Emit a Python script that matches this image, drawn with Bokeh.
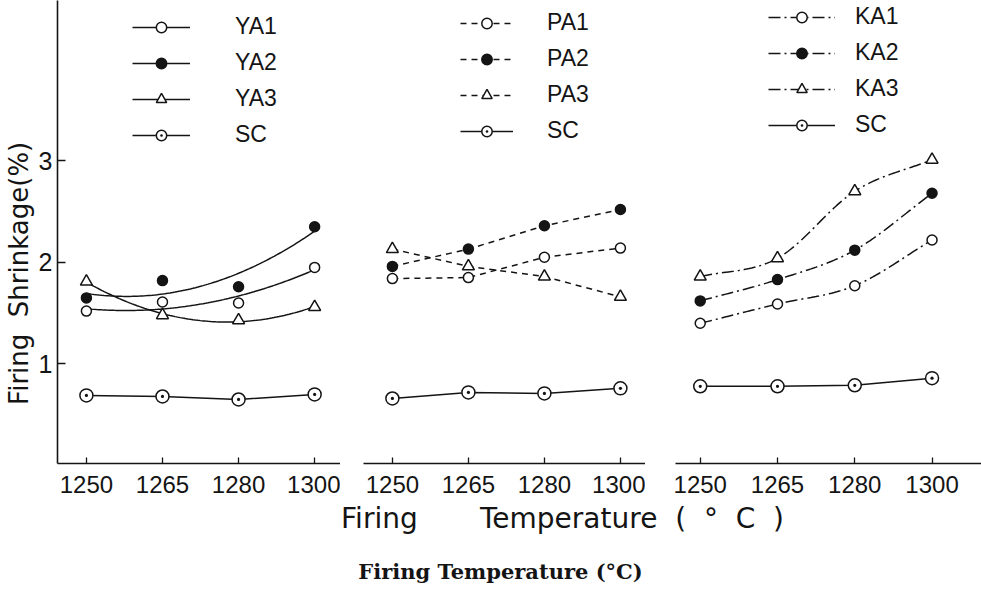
import numpy as np
from bokeh.plotting import figure
from bokeh.models import Range1d, FixedTicker, Legend, LegendItem, Label
from bokeh.layouts import row, column
from bokeh.embed import file_html
from bokeh.resources import INLINE

# ---- data: firing shrinkage (%) vs firing temperature (°C) ----
temps = ["1250", "1265", "1280", "1300"]

ya_labels = ["YA1", "YA2", "YA3", "SC"]
ya1 = [1.52, 1.61, 1.60, 1.95]
ya2 = [1.65, 1.82, 1.76, 2.35]
ya3 = [1.81, 1.48, 1.43, 1.56]
sc_ya = [0.69, 0.68, 0.65, 0.70]

pa_labels = ["PA1", "PA2", "PA3", "SC"]
pa1 = [1.84, 1.85, 2.05, 2.14]
pa2 = [1.96, 2.13, 2.36, 2.52]
pa3 = [2.13, 1.96, 1.86, 1.66]
sc_pa = [0.66, 0.72, 0.71, 0.76]

ka_labels = ["KA1", "KA2", "KA3", "SC"]
ka1 = [1.40, 1.59, 1.77, 2.22]
ka2 = [1.62, 1.83, 2.12, 2.68]
ka3 = [1.86, 2.04, 2.70, 3.01]
sc_ka = [0.78, 0.78, 0.79, 0.86]

y_ticks = [1, 2, 3]
NB = "\u00a0"
# trailing no-break spaces push the rotated title below the frame centre
y_title = "Firing" + NB * 2 + "Shrinkage(%)" + NB * 10
x_title = ("Firing" + NB * 7 + "Temperature" + NB * 2 + "(" + NB * 2 + "°" + NB * 2
           + "C" + NB * 2 + ")")
caption = "Firing Temperature (°C)"

INK = "#141414"
TICK_FONT = "Liberation Sans"
LABEL_FONT = "DejaVu Sans"
ROW_H = 503        # total height of each panel figure
BOTTOM = 40        # room for the tick labels -> frame from y=0 to y=463
FRAME_H = ROW_H - BOTTOM
Y_END = 4.577
ROW_PITCH_H = 27.5  # legend row height
LEG_SPACING = 9


def trace(ys, mode, n=30):
    """Return x/y arrays for the line through a series (straight, quadratic trend, or spline)."""
    ys = np.asarray(ys, dtype=float)
    idx = np.arange(len(ys), dtype=float)
    if mode == "straight":
        return idx, ys
    xs = np.linspace(0, len(ys) - 1, n * (len(ys) - 1) + 1)
    if mode == "fit":
        return xs, np.polyval(np.polyfit(idx, ys, 2), xs)
    pad = np.concatenate([[2 * ys[0] - ys[1]], ys, [2 * ys[-1] - ys[-2]]])
    out = []
    for x in xs:
        i = min(int(x), len(ys) - 2)
        t = x - i
        p0, p1, p2, p3 = pad[i:i + 4]
        out.append(0.5 * (2 * p1 + (-p0 + p2) * t + (2 * p0 - 5 * p1 + 4 * p2 - p3) * t ** 2
                          + (-p0 + 3 * p1 - 3 * p2 + p3) * t ** 3))
    return xs, np.array(out)


MARKERS = [
    dict(marker="circle", size=10, fill_color="white"),
    dict(marker="circle", size=10, fill_color=INK),
    dict(marker="triangle", size=12, fill_color="white"),
    dict(marker="circle_dot", size=13, fill_color="white"),
]


def panel(series, labels, dash, mode, frame_w, left, x_start, x_end, show_y,
          leg_x, first_row, glyph_w, standoff):
    p = figure(frame_width=frame_w, height=ROW_H,
               x_range=Range1d(x_start, x_end), y_range=Range1d(0.02, Y_END),
               output_backend="svg", toolbar_location=None,
               y_axis_location="left" if show_y else None,
               min_border_left=left, min_border_right=0,
               min_border_top=0, min_border_bottom=BOTTOM)
    p.outline_line_color = None
    p.grid.visible = False
    p.background_fill_color = "white"
    p.border_fill_color = "white"

    xa = p.xaxis[0]
    xa.ticker = FixedTicker(ticks=list(range(len(temps))))
    xa.major_label_overrides = {i: t for i, t in enumerate(temps)}
    xa.axis_label = None
    xa.axis_line_color = INK
    xa.axis_line_width = 1.6
    xa.major_tick_in = 6
    xa.major_tick_out = 0
    xa.major_tick_line_color = INK
    xa.major_tick_line_width = 1.3
    xa.minor_tick_line_color = None
    xa.major_label_text_font = TICK_FONT
    xa.major_label_text_font_size = "24px"
    xa.major_label_text_color = INK
    xa.major_label_standoff = 12

    if show_y:
        ya = p.yaxis[0]
        ya.ticker = FixedTicker(ticks=y_ticks)
        ya.axis_line_color = INK
        ya.axis_line_width = 1.6
        ya.major_tick_in = 8
        ya.major_tick_out = 0
        ya.major_tick_line_color = INK
        ya.major_tick_line_width = 1.3
        ya.minor_tick_line_color = None
        ya.major_label_text_font = TICK_FONT
        ya.major_label_text_font_size = "25px"
        ya.major_label_text_color = INK
        ya.major_label_standoff = 5
        ya.axis_label = y_title
        ya.axis_label_text_font = LABEL_FONT
        ya.axis_label_text_font_size = "26px"
        ya.axis_label_text_font_style = "normal"
        ya.axis_label_text_color = INK
        ya.axis_label_standoff = 2

    items = []
    for k, (ys, lab) in enumerate(zip(series, labels)):
        is_sc = lab == "SC"
        lx, ly = trace(ys, "straight" if is_sc else mode)
        ln = p.line(lx, ly, line_color=INK, line_width=1.5,
                    line_dash="solid" if is_sc else dash)
        mk = p.scatter(list(range(len(ys))), ys, line_color=INK, line_width=1.5,
                       **MARKERS[k])
        items.append(LegendItem(label=lab, renderers=[ln, mk]))

    leg = Legend(items=items, glyph_width=glyph_w, glyph_height=26,
                 label_standoff=standoff, spacing=LEG_SPACING, padding=0, margin=0,
                 border_line_color=None, background_fill_alpha=0,
                 label_text_font=TICK_FONT, label_text_font_size="23px",
                 label_text_color=INK)
    leg_h = 4 * ROW_PITCH_H + 3 * LEG_SPACING
    leg.location = (leg_x, FRAME_H - (first_row - ROW_PITCH_H / 2) - leg_h)
    p.add_layout(leg)
    return p


p1 = panel([ya1, ya2, ya3, sc_ya], ya_labels, "solid", "fit",
           283, 57, -0.38, 3.34, True, 75, 25, 58, 45)
p2 = panel([pa1, pa2, pa3, sc_pa], pa_labels, "6 5", "straight",
           282, 23, -0.38, 3.33, False, 97, 21, 53, 34)
p3 = panel([ka1, ka2, ka3, sc_ka], ka_labels, "12 4 2 4", "spline",
           306, 30, -0.32, 3.64, False, 93, 15, 67, 20)

# Bottom strip with the shared axis title and the caption
cap_h = 593 - ROW_H
pc = figure(frame_width=981, frame_height=cap_h, x_range=Range1d(0, 981),
            y_range=Range1d(0, cap_h), output_backend="svg", toolbar_location=None,
            x_axis_location=None, y_axis_location=None,
            min_border=0)
pc.outline_line_color = None
pc.grid.visible = False
pc.add_layout(Label(x=562, y=cap_h - (518 - ROW_H), text=x_title, text_align="center",
                    text_baseline="alphabetic", text_font=LABEL_FONT,
                    text_font_size="28px", text_color=INK))
pc.add_layout(Label(x=500, y=cap_h - (571 - ROW_H), text=caption, text_align="center",
                    text_baseline="alphabetic", text_font="DejaVu Serif",
                    text_font_style="bold", text_font_size="21px", text_color=INK))

layout = column(row(p1, p2, p3, spacing=0), pc, spacing=0)
open("out.html", "w").write(file_html(layout, INLINE))
